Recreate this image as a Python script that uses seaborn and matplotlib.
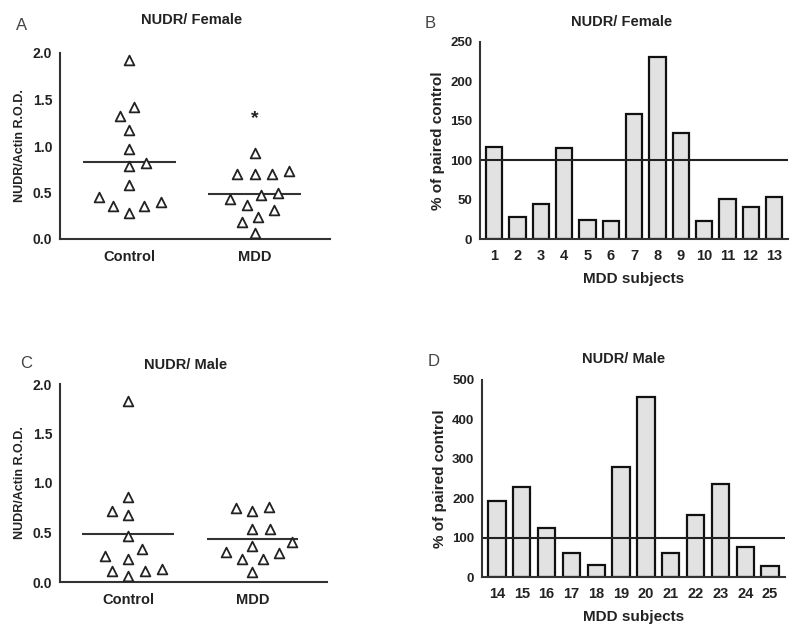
import numpy as np
import pandas as pd
import matplotlib
matplotlib.use("Agg")
import matplotlib.pyplot as plt
from matplotlib.collections import PathCollection
import seaborn as sns

# ---------------- data ----------------
groups = ["Control", "MDD"]
female_control = [1.92, 1.42, 1.32, 1.17, 0.97, 0.79, 0.82, 0.58, 0.45, 0.36, 0.28, 0.35, 0.40]
female_mdd = [0.93, 0.73, 0.70, 0.70, 0.70, 0.50, 0.43, 0.47, 0.37, 0.31, 0.24, 0.18, 0.06]
male_control = [1.83, 0.86, 0.72, 0.68, 0.46, 0.33, 0.26, 0.23, 0.11, 0.11, 0.13, 0.06]
male_mdd = [0.75, 0.72, 0.76, 0.535, 0.535, 0.40, 0.30, 0.23, 0.29, 0.36, 0.23, 0.10]

female_subjects = [str(i) for i in range(1, 14)]
female_pct = [117, 28, 45, 115, 24, 23, 159, 231, 134, 23, 51, 41, 53]
male_subjects = [str(i) for i in range(14, 26)]
male_pct = [192, 228, 124, 62, 31, 280, 457, 60, 158, 236, 77, 27]

female_sig_value = 1.29

# ---------------- style ----------------
sns.set_theme(style="white")
plt.rcParams["font.family"] = ["Liberation Sans", "DejaVu Sans"]
plt.rcParams["font.weight"] = "bold"
axcol = "#333333"
txtcol = "#222222"

fig = plt.figure(figsize=(8, 6.38), dpi=100)

def px(x0, y0, x1, y1):
    W, H = 800, 638
    return [x0 / W, 1 - y1 / H, (x1 - x0) / W, (y1 - y0) / H]

axA = fig.add_axes(px(60, 53, 330, 239))
axB = fig.add_axes(px(480, 42, 788, 239))
axC = fig.add_axes(px(60, 384, 327, 582))
axD = fig.add_axes(px(482, 380, 785, 577))

def style_axes(ax, fs):
    for s in ["top", "right"]:
        ax.spines[s].set_visible(False)
    for s in ["left", "bottom"]:
        ax.spines[s].set_color(axcol)
        ax.spines[s].set_linewidth(1.5)
    ax.tick_params(axis="both", direction="out", length=3.5, width=1.2,
                   color=axcol, labelsize=fs, labelcolor=txtcol, pad=2)
    for lab in ax.get_xticklabels() + ax.get_yticklabels():
        lab.set_fontweight("bold")

swarm_axes = []

def scatter_panel(ax, ctrl, mdd, ylabel):
    df = pd.DataFrame({
        "group": [groups[0]] * len(ctrl) + [groups[1]] * len(mdd),
        "value": list(ctrl) + list(mdd),
    })
    sns.swarmplot(data=df, x="group", y="value", order=groups, ax=ax,
                  marker="^", size=10.5, color="white", edgecolor="#222222",
                  linewidth=1.3)
    for i, vals in enumerate([ctrl, mdd]):
        ax.hlines(np.mean(vals), i - 0.37, i + 0.37, color="#333333", lw=1.5)
    ax.set_ylim(0, 2.0)
    ax.set_xlim(-0.55, 1.6)
    ax.set_yticks([0, 0.5, 1.0, 1.5, 2.0])
    ax.set_yticklabels(["0.0", "0.5", "1.0", "1.5", "2.0"])
    ax.set_xlabel("")
    ax.set_ylabel(ylabel, fontsize=9, fontweight="bold", color=txtcol, labelpad=5)
    style_axes(ax, 10)
    ax.tick_params(axis="x", length=0, labelsize=10.5, pad=8)
    for lab in ax.get_xticklabels():
        lab.set_fontweight("bold")
    swarm_axes.append(ax)

def bar_panel(ax, subjects, vals, ymax, step):
    sns.barplot(x=subjects, y=vals, order=subjects, ax=ax, color="#e2e2e2",
                edgecolor="#111111", linewidth=1.6, width=0.7, saturation=1)
    ax.axhline(100, color="#222222", lw=1.5)
    ax.set_ylim(0, ymax)
    ax.set_yticks(np.arange(0, ymax + 1, step))
    ax.set_xlim(-0.6, len(subjects) - 1 + 0.6)
    ax.set_xlabel("MDD subjects", fontsize=11, fontweight="bold", color=txtcol, labelpad=6)
    ax.set_ylabel("% of paired control", fontsize=11, fontweight="bold", color=txtcol, labelpad=4)
    style_axes(ax, 9.5)
    ax.tick_params(axis="x", labelsize=10.5, length=4.5, pad=3)
    for lab in ax.get_xticklabels():
        lab.set_fontweight("bold")

scatter_panel(axA, female_control, female_mdd, "NUDR/Actin R.O.D.")
axA.text(1, female_sig_value, "*", ha="center", va="center", fontsize=14,
         fontweight="bold", color=txtcol)
scatter_panel(axC, male_control, male_mdd, "NUDR/Actin R.O.D.")
bar_panel(axB, female_subjects, female_pct, 250, 50)
bar_panel(axD, male_subjects, male_pct, 500, 100)

# titles and panel letters
def ftext(x, y, s, **kw):
    fig.text(x / 800, 1 - y / 638, s, ha="center", va="center", **kw)

tkw = dict(fontsize=10.5, fontweight="bold", color=txtcol)
ftext(192, 20, "NUDR/ Female", **tkw)
ftext(622, 22, "NUDR/ Female", **tkw)
ftext(186, 365, "NUDR/ Male", **tkw)
ftext(624, 359, "NUDR/ Male", **tkw)

lkw = dict(fontsize=12, fontweight="normal", color="#444444")
ftext(22, 26, "A", **lkw)
ftext(430, 24, "B", **lkw)
ftext(26, 364, "C", **lkw)
ftext(434, 361, "D", **lkw)

# lay the swarm out with a wide spacing, then freeze it and draw smaller markers
fig.canvas.draw()
for ax in swarm_axes:
    for coll in ax.collections:
        if not isinstance(coll, PathCollection):
            continue
        if "draw" in coll.__dict__:
            del coll.__dict__["draw"]
        coll.set_sizes([7.0 ** 2])

fig.savefig("out.png", dpi=100)
